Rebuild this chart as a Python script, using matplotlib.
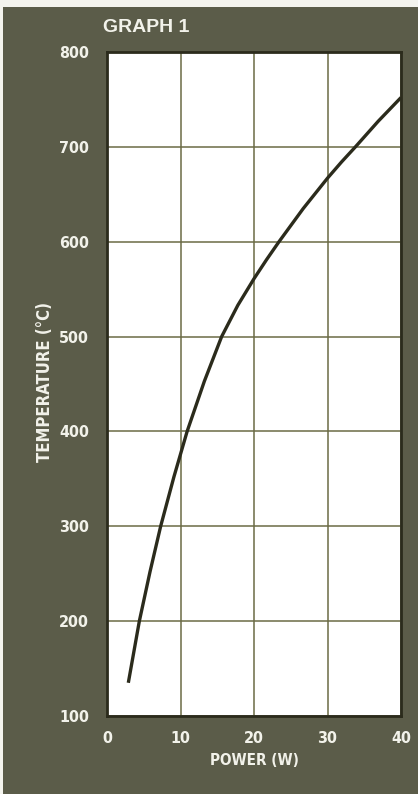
import matplotlib
matplotlib.use("Agg")
import matplotlib.pyplot as plt
from matplotlib.patches import Rectangle

# Power (W) vs. temperature (deg C) readings
power_w = [2.9, 4.4, 5.85, 7.3, 9.1, 10.9, 13.25, 15.6, 17.8, 20.0, 21.7, 23.4,
           26.7, 30.0, 31.9, 33.8, 36.9, 40.0]
temperature_c = [135, 200, 252, 300, 352, 400, 453, 500, 533, 561, 581, 600,
                 635, 667, 684, 700, 727, 752]

x_ticks = [0, 10, 20, 30, 40]
y_ticks = [100, 200, 300, 400, 500, 600, 700, 800]

label_font = ["DejaVu Sans"]

bg = "#5b5c49"
ink = "#2b2b1c"
grid_c = "#6b6b45"
txt = "#f2f2ea"

fig = plt.figure(figsize=(4.18, 7.94), dpi=100)
fig.patch.set_facecolor("#f4f4ee")
fig.add_artist(Rectangle((3 / 418, 0), 1, 1 - 7 / 794, transform=fig.transFigure,
                         facecolor=bg, edgecolor="none", zorder=0))

ax = fig.add_axes([107 / 418, 78 / 794, 294 / 418, 664 / 794])
ax.set_facecolor("white")
ax.plot(power_w, temperature_c, color=ink, lw=2.4, solid_capstyle="butt",
        solid_joinstyle="round", zorder=3)

ax.set_xlim(0, 40)
ax.set_ylim(100, 800)
ax.set_xticks(x_ticks)
ax.set_yticks(y_ticks)
ax.set_xticklabels([str(v) for v in x_ticks])
ax.set_yticklabels([str(v) for v in y_ticks])
ax.grid(True, color=grid_c, lw=1.1, zorder=1)
ax.tick_params(length=0, colors=txt, labelsize=11.5)
ax.tick_params(axis="y", pad=13)
ax.tick_params(axis="x", pad=11)
for lab in ax.get_xticklabels() + ax.get_yticklabels():
    lab.set_family(label_font)
    lab.set_fontweight("bold")
    lab.set_fontstretch("condensed")
    lab.set_color(txt)
for s in ax.spines.values():
    s.set_color(ink)
    s.set_linewidth(2.0)
    s.set_zorder(4)

ax.set_xlabel("POWER (W)", family=label_font, fontweight="bold", fontstretch="condensed",
              fontsize=11, color=txt, labelpad=5)
ax.set_ylabel("TEMPERATURE (°C)", family=label_font, fontweight="bold",
              fontstretch="condensed", fontsize=12, color=txt)
ax.yaxis.set_label_coords(-0.18, 0.503)

fig.text(103 / 418, 1 - 28 / 794, "GRAPH 1", family=["Liberation Sans", "DejaVu Sans"],
         fontweight="bold", fontsize=14, color=txt, ha="left", va="center")

fig.savefig("out.png", dpi=100, facecolor=fig.get_facecolor())
